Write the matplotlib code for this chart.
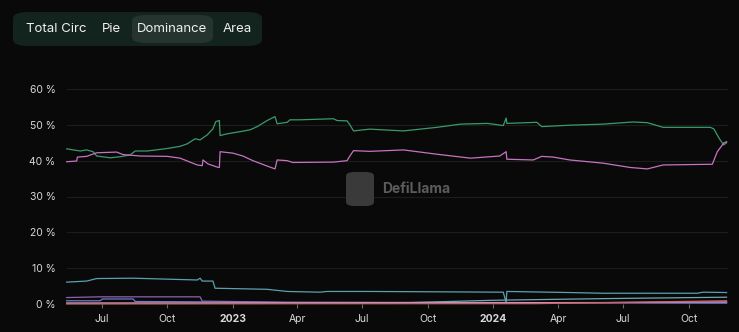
import pandas as pd
import matplotlib.pyplot as plt
from matplotlib.patches import FancyBboxPatch

# stablecoin dominance (%)
usdt_dates = ['2022-05-13', '2022-06-01', '2022-06-10', '2022-06-19', '2022-06-24', '2022-07-13',
              '2022-07-27', '2022-08-10', '2022-08-17', '2022-09-03', '2022-10-01', '2022-10-19',
              '2022-10-29', '2022-11-09', '2022-11-16', '2022-11-26', '2022-12-04', '2022-12-08',
              '2022-12-13', '2022-12-14', '2022-12-24', '2023-01-11', '2023-01-25', '2023-02-04',
              '2023-02-18', '2023-03-01', '2023-03-04', '2023-03-18', '2023-03-22', '2023-04-05',
              '2023-05-22', '2023-05-27', '2023-06-10', '2023-06-14', '2023-06-19', '2023-07-12',
              '2023-08-28', '2023-10-14', '2023-11-16', '2023-12-24', '2024-01-15', '2024-01-19',
              '2024-01-20', '2024-03-02', '2024-03-09', '2024-04-17', '2024-06-03', '2024-07-15',
              '2024-08-04', '2024-08-26', '2024-10-31', '2024-11-05', '2024-11-13', '2024-11-19',
              '2024-11-23']
usdt_vals = [43.3, 42.7, 43.0, 42.5, 41.3, 40.8, 41.1, 41.6, 42.7, 42.7, 43.4, 44.0,
             44.7, 46.1, 45.8, 47.2, 48.9, 50.9, 51.2, 47.0, 47.5, 48.1, 48.6, 49.5,
             51.2, 52.3, 50.3, 50.7, 51.4, 51.4, 51.7, 51.2, 51.1, 50.0, 48.3, 48.8,
             48.3, 49.3, 50.2, 50.4, 49.8, 51.9, 50.4, 50.7, 49.5, 49.9, 50.2, 50.8,
             50.6, 49.3, 49.3, 48.9, 46.1, 44.4, 45.0]

usdc_dates = ['2022-05-13', '2022-05-27', '2022-05-28', '2022-06-10', '2022-06-24', '2022-07-22',
              '2022-07-31', '2022-08-24', '2022-10-01', '2022-10-19', '2022-11-12', '2022-11-19',
              '2022-11-20', '2022-11-27', '2022-12-10', '2022-12-13', '2022-12-14', '2023-01-01',
              '2023-01-15', '2023-01-29', '2023-02-18', '2023-03-01', '2023-03-04', '2023-03-18',
              '2023-03-26', '2023-05-22', '2023-06-10', '2023-06-13', '2023-06-19', '2023-07-12',
              '2023-08-28', '2023-10-14', '2023-11-30', '2024-01-10', '2024-01-19', '2024-01-20',
              '2024-02-26', '2024-03-09', '2024-03-25', '2024-04-17', '2024-06-03', '2024-07-11',
              '2024-08-04', '2024-08-26', '2024-09-29', '2024-11-03', '2024-11-10', '2024-11-19',
              '2024-11-23']
usdc_vals = [39.7, 39.9, 41.0, 41.2, 42.2, 42.4, 41.7, 41.3, 41.2, 40.7, 38.8, 38.6,
             40.2, 39.1, 38.2, 38.1, 42.5, 42.1, 41.3, 40.0, 38.5, 37.7, 40.2, 40.0,
             39.5, 39.6, 40.0, 41.0, 42.8, 42.6, 43.0, 41.8, 40.7, 41.3, 42.5, 40.4,
             40.2, 41.2, 41.0, 40.2, 39.3, 38.1, 37.7, 38.8, 38.9, 39.0, 42.5, 44.9,
             45.3]

dai_dates = ['2022-05-13', '2022-06-10', '2022-06-24', '2022-08-14', '2022-11-12', '2022-11-16',
             '2022-11-19', '2022-12-04', '2022-12-07', '2023-02-18', '2023-03-18', '2023-05-03',
             '2023-05-13', '2023-07-12', '2024-01-15', '2024-01-19', '2024-01-20', '2024-04-17',
             '2024-06-03', '2024-10-13', '2024-10-21', '2024-11-23']
dai_vals = [6.1, 6.4, 7.1, 7.2, 6.7, 7.2, 6.4, 6.4, 4.4, 4.1, 3.5, 3.3,
            3.5, 3.5, 3.3, 0.4, 3.5, 3.2, 3.0, 3.0, 3.3, 3.2]

busd_dates = ['2022-05-13', '2022-06-29', '2022-11-16', '2022-11-19', '2023-03-18', '2024-11-23']
busd_vals = [1.8, 2.0, 2.0, 0.8, 0.5, 0.3]

ust_dates = ['2022-05-13', '2022-06-29', '2022-07-02', '2022-08-14', '2022-08-17', '2022-11-16',
             '2023-03-18', '2024-11-23']
ust_vals = [0.9, 0.9, 1.4, 1.4, 0.7, 0.6, 0.4, 0.3]

usde_dates = ['2022-05-13', '2023-08-01', '2023-12-24', '2024-01-20', '2024-06-03', '2024-11-23']
usde_vals = [0.1, 0.2, 1.0, 1.1, 1.5, 1.9]

fdusd_dates = ['2022-05-13', '2024-03-01', '2024-07-15', '2024-11-23']
fdusd_vals = [0.05, 0.1, 0.5, 0.9]

misc_dates = ['2022-05-13', '2023-01-01', '2024-06-01', '2024-11-23']
misc_vals = [0.3, 0.3, 0.4, 0.6]

series = [
    (usdt_dates, usdt_vals, '#3a9a6c'),
    (usdc_dates, usdc_vals, '#c673c0'),
    (dai_dates, dai_vals, '#5aa1ae'),
    (busd_dates, busd_vals, '#8e62b0'),
    (ust_dates, ust_vals, '#6a7fc8'),
    (usde_dates, usde_vals, '#6aa9b4'),
    (misc_dates, misc_vals, '#b39ad0'),
    (fdusd_dates, fdusd_vals, '#d9605a'),
]

tick_dates = ['2022-07-01', '2022-10-01', '2023-01-01', '2023-04-01', '2023-07-01',
              '2023-10-01', '2024-01-01', '2024-04-01', '2024-07-01', '2024-10-01']
tick_labels = ['Jul', 'Oct', '2023', 'Apr', 'Jul', 'Oct', '2024', 'Apr', 'Jul', 'Oct']
y_ticks = [0, 10, 20, 30, 40, 50, 60]

tabs = ['Total Circ', 'Pie', 'Dominance', 'Area']
tab_x = [56, 111, 172, 237]

plt.rcParams['font.family'] = ['Inter', 'DejaVu Sans']
bg = '#090909'

fig = plt.figure(figsize=(7.39, 3.32), dpi=100, facecolor=bg)
W, H = 739, 332
ax = fig.add_axes([66.7 / W, 1 - 304 / H, (728 - 66.7) / W, (304 - 89) / H])
ax.set_facecolor(bg)

for d, v, c in series:
    ax.plot(pd.to_datetime(d), v, color=c, lw=0.9, clip_on=False, zorder=3)

ax.set_xlim(pd.Timestamp('2022-05-13'), pd.Timestamp('2024-11-25'))
ax.set_ylim(0, 60)
ax.set_yticks(y_ticks)
ax.set_yticklabels([f'{t} %' for t in y_ticks])
ax.set_xticks(pd.to_datetime(tick_dates))
ax.set_xticklabels(tick_labels)
for lab in ax.get_xticklabels():
    if lab.get_text().isdigit():
        lab.set_fontweight('bold')

ax.grid(axis='y', color='#1c1c1c', lw=0.8)
ax.set_axisbelow(True)
for s in ax.spines.values():
    s.set_visible(False)
ax.tick_params(axis='y', length=0, pad=8, labelsize=7.5, labelcolor='#d8d8d8')
ax.tick_params(axis='x', length=3, width=0.8, color='#6a6a6a', pad=4,
               labelsize=7.5, labelcolor='#d8d8d8')

# watermark
fig.patches.append(FancyBboxPatch((346 / W, 1 - 206 / H), 28 / W, 34 / H,
                                  boxstyle='round,pad=0,rounding_size=0.012',
                                  transform=fig.transFigure, facecolor='#3a3a3a',
                                  edgecolor='none', zorder=1))
fig.text(382 / W, 1 - 189 / H, 'DefiLlama', color='#5c5c5c', fontsize=10,
         fontweight='bold', va='center', ha='left')

# tab switcher
fig.patches.append(FancyBboxPatch((13 / W, 1 - 46 / H), 249 / W, 34 / H,
                                  boxstyle='round,pad=0,rounding_size=0.02',
                                  transform=fig.transFigure, facecolor='#13231e',
                                  edgecolor='none'))
fig.patches.append(FancyBboxPatch((132 / W, 1 - 43 / H), 81 / W, 28 / H,
                                  boxstyle='round,pad=0,rounding_size=0.018',
                                  transform=fig.transFigure, facecolor='#26342f',
                                  edgecolor='none'))
for t, x in zip(tabs, tab_x):
    fig.text(x / W, 1 - 29 / H, t, color='#f0f0f0', fontsize=9.5,
             ha='center', va='center')

fig.savefig('out.png', dpi=100, facecolor=bg)
